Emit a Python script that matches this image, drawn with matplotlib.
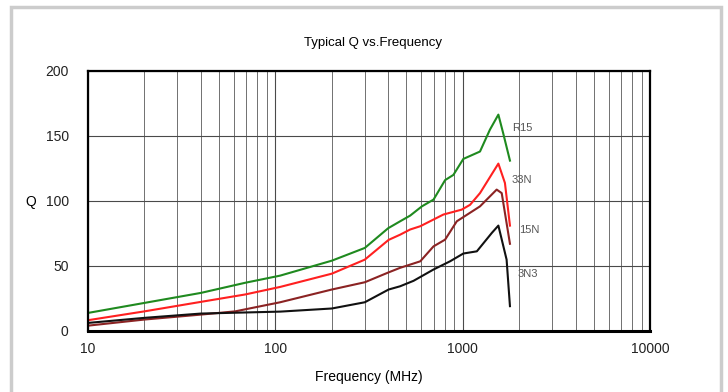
import matplotlib
matplotlib.use("Agg")
import matplotlib.pyplot as plt
from matplotlib.patches import Rectangle

plt.rcParams['font.family'] = ['Liberation Sans', 'DejaVu Sans']

# Frecuencias (MHz) y Q
freq_r15 = [10, 20, 40, 69, 106, 200, 300, 400, 463, 524, 605, 698, 805, 891, 1007, 1236, 1396, 1549, 1644, 1786]
q_r15 = [13.8, 21.5, 29.2, 37, 42.5, 54, 63.8, 79, 84.3, 88.7, 95.8, 101, 116, 120, 132.3, 138, 154.8, 166.4, 152, 131]

freq_33n = [10, 20, 40, 69, 106, 200, 300, 402, 463, 524, 593, 788, 988, 1094, 1236, 1549, 1679, 1786]
q_33n = [8.2, 15, 22.3, 28, 33.8, 44, 54.8, 70, 74, 78, 80.5, 89.5, 93.3, 97, 106, 128.7, 113.8, 81]

freq_15n = [10, 20, 40, 61, 106, 200, 300, 402, 463, 524, 593, 698, 805, 929, 1236, 1517, 1614, 1786]
q_15n = [4, 8.7, 12.5, 15, 22, 31.8, 37.4, 45, 48.5, 51, 53.5, 65, 70.2, 84.3, 95.8, 108.7, 106, 67]

freq_3n3 = [10, 20, 40, 106, 200, 300, 402, 463, 546, 698, 855, 1007, 1189, 1430, 1549, 1714, 1786]
q_3n3 = [6.1, 10, 13.3, 14.8, 17.2, 22, 31.8, 34.3, 38.5, 47.2, 53.5, 59.5, 61.2, 75.4, 81, 54.8, 19]

series = [
    (freq_r15, q_r15, '#1f8a1f', 'R15', 1830, 156),
    (freq_33n, q_33n, '#ff2020', '33N', 1830, 116),
    (freq_15n, q_15n, '#8b2323', '15N', 2000, 77.6),
    (freq_3n3, q_3n3, '#111111', '3N3', 1950, 43.5),
]

fig = plt.figure(figsize=(7.28, 3.92), dpi=100)
ax = fig.add_axes([0.121, 0.156, 0.772, 0.663])

for f, q, color, name, tx, ty in series:
    ax.plot(f, q, color=color, lw=1.5, solid_joinstyle='round')
    ax.text(tx, ty, name, color='#555555', fontsize=8, va='center', ha='left')

ax.set_xscale('log')
ax.set_xlim(10, 10000)
ax.set_ylim(0, 200)
ax.set_yticks([0, 50, 100, 150, 200])
ax.set_xticks([10, 100, 1000, 10000])
ax.set_xticklabels(['10', '100', '1000', '10000'])
ax.grid(True, which='major', color='#4a4a4a', lw=0.8)
ax.grid(True, which='minor', axis='x', color='#707070', lw=0.7)
ax.tick_params(which='both', length=0, labelsize=10, colors='#222222')
ax.tick_params(axis='y', pad=14)
ax.tick_params(axis='x', pad=8)

for s in ax.spines.values():
    s.set_linewidth(1.6)
ax.spines['bottom'].set_linewidth(2.2)

ax.set_xlabel('Frequency (MHz)', fontsize=10, labelpad=10)
fig.text(0.042, 0.485, 'Q', fontsize=10, ha='center', va='center')
fig.text(0.512, 0.89, 'Typical Q vs.Frequency', fontsize=9.5, ha='center', va='center')

# borde gris del recuadro
fig.patches.append(Rectangle((0.015, -0.05), 0.976, 1.032, transform=fig.transFigure,
                             fill=False, edgecolor='#cccccc', lw=2.5))

fig.savefig('out.png', dpi=100, facecolor='white')
